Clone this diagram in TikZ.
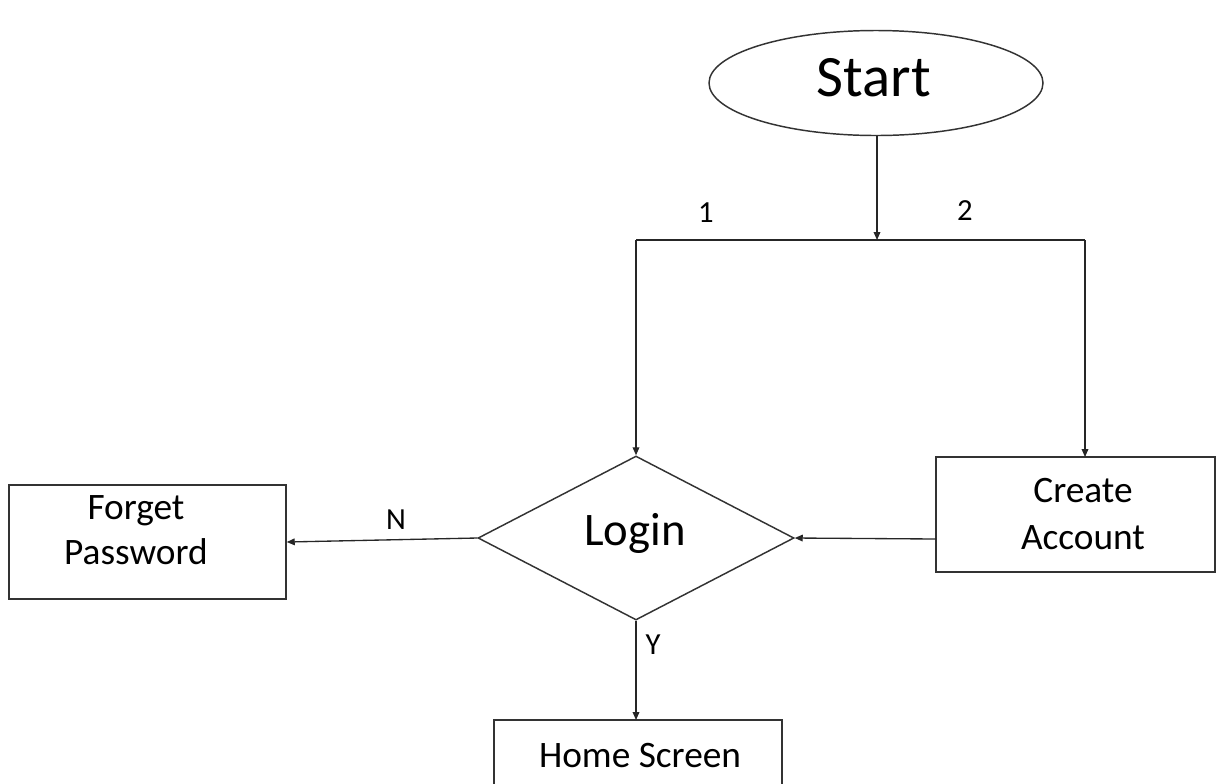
\documentclass[tikz,border=0pt]{standalone}
\usepackage{fontspec}
\setmainfont{Carlito}
\usetikzlibrary{shapes.geometric,arrows.meta}
\begin{document}
\begin{tikzpicture}[x=0.75pt,y=-0.75pt,
  shapeline/.style={draw=black!80,line width=1.1pt},
  conn/.style={draw=black!85,line width=1.0pt,-{Triangle[length=6pt,width=5pt]}},
  plainline/.style={draw=black!85,line width=1.0pt},
  boxnode/.style={shapeline,rectangle,inner sep=0pt},
  lbl/.style={font=\fontsize{23}{26}\selectfont,inner sep=0pt},
  boxtext/.style={font=\fontsize{28}{34}\selectfont,align=center,inner sep=0pt}]
\useasboundingbox (0,0) rectangle (1216,783);
\clip (0,0) rectangle (1216,783);
% nodes
\node[shapeline,ellipse,inner sep=0pt,minimum width=250.5pt,minimum height=78.75pt] (start) at (876,83) {};
\node[font=\fontsize{44}{50}\selectfont,inner sep=0pt] (starttxt) at (874,78) {Start};
\node[shapeline,diamond,inner sep=0pt,minimum width=237pt,minimum height=123pt] (login) at (636,538) {};
\node[font=\fontsize{35}{40}\selectfont,inner sep=0pt] (logintxt) at (635,533) {Login};
\node[boxnode,minimum width=207.75pt,minimum height=85.5pt] (forget) at (147.5,542) {};
\node[boxtext] (forgettxt) at (136,530) {Forget\\Password};
\node[boxnode,minimum width=209.25pt,minimum height=86.25pt] (create) at (1075.5,514.5) {};
\node[boxtext,font=\fontsize{28}{35}\selectfont] (createtxt) at (1083,514) {Create\\Account};
\node[boxnode,minimum width=216pt,minimum height=90pt] (home) at (638,780) {};
\node[boxtext] (hometxt) at (640,755) {Home Screen};
% junctions
\coordinate (j0) at (877,240);
\coordinate (jl) at (636,240);
\coordinate (jr) at (1085,240);
\coordinate (ctop) at (1085,457);
\coordinate (cleft) at (936,539);
\coordinate (hometop) at (636,720);
% connectors
\draw[conn] (start.south -| j0) -- (j0);
\draw[plainline] (jl) -- (jr);
\draw[conn] (jl) -- (login.north);
\draw[conn] (jr) -- (ctop);
\draw[conn] (cleft) -- (login.east);
\draw[conn] (login.west) -- (forget.east);
\draw[conn] (login.south) -- (hometop);
% labels
\node[lbl] (l1) at (706,213) {1};
\node[lbl] (l2) at (965,211) {2};
\node[lbl] (ln) at (396,520) {N};
\node[lbl] (ly) at (653,645) {Y};
\end{tikzpicture}
\end{document}
